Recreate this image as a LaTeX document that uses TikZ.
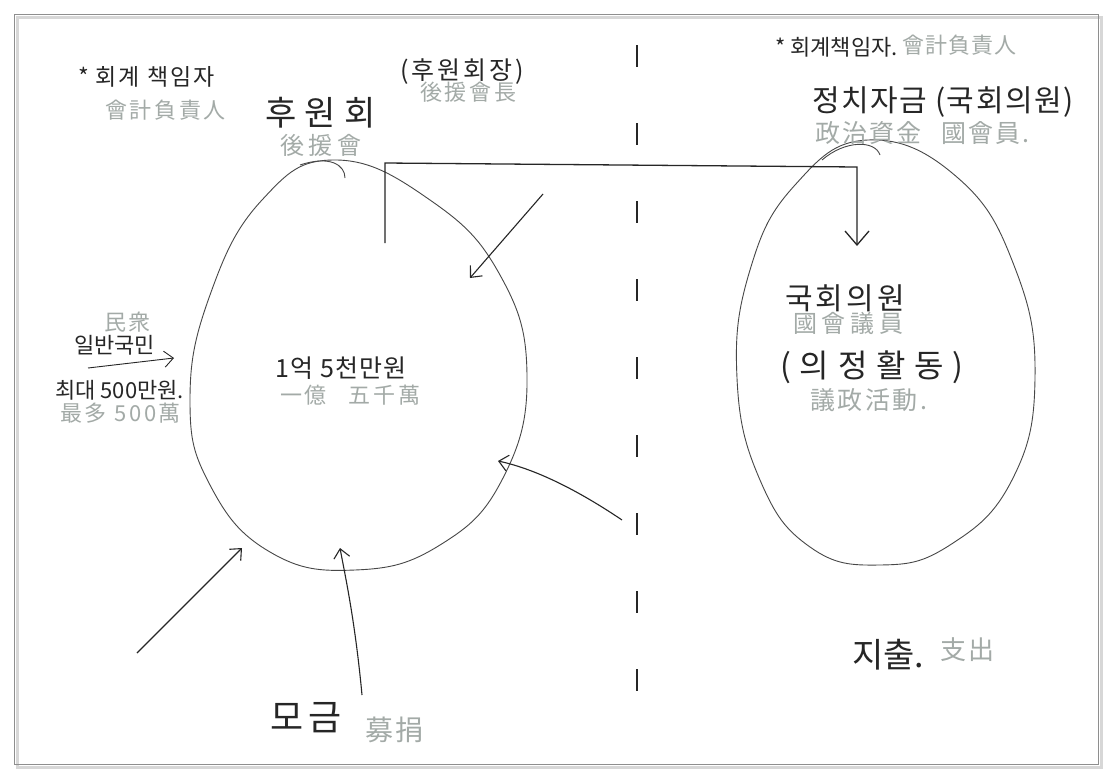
\documentclass[tikz,border=0pt]{standalone}
\usepackage{fontspec}
\setmainfont{Noto Sans CJK KR}
\usetikzlibrary{arrows.meta}
\definecolor{ink}{HTML}{262626}
\definecolor{pencil}{HTML}{A3AAA7}
\definecolor{framec}{HTML}{8E8E8E}
\newcommand{\lsp}[1]{\addfontfeature{LetterSpace=#1}}
\tikzset{
  inktext/.style={text=ink, font=\fontsize{22}{26}\selectfont, inner sep=0pt},
  biginktext/.style={text=ink, font=\fontsize{30}{34}\selectfont, inner sep=0pt},
  hanja/.style={text=pencil, font=\fontsize{22}{26}\selectfont\lsp{12}, inner sep=0pt},
  oval/.style={draw=ink!85, line width=0.9pt},
  flow/.style={draw=ink, line width=1.1pt, -{Straight Barb[length=9pt,width=16pt]}},
  bigflow/.style={draw=ink, line width=1.3pt, -{Straight Barb[length=14pt,width=24pt]}},
}
\begin{document}
\begin{tikzpicture}[x=1pt,y=-1pt]
\useasboundingbox (0,0) rectangle (1114,779);
\fill[white] (0,0) rectangle (1114,779);
\draw[framec!35, line width=3pt] (17,17) rectangle (1101,767);
\draw[framec, line width=0.8pt] (14,14) rectangle (1098,764);

% ovals
\draw[oval] plot[smooth cycle, tension=0.75] coordinates {
  (335,160) (430,200) (500,275) (527,375) (503,478) (440,545)
  (355,570) (270,552) (210,485) (190,400) (210,295) (262,200)};
\draw[oval] (300,165) .. controls (330,155) and (345,165) .. (345,178);
\draw[oval] plot[smooth cycle, tension=0.75] coordinates {
  (868,140) (958,178) (1015,268) (1035,378) (1012,480) (950,545)
  (880,565) (810,547) (760,480) (737,378) (750,270) (795,185)};
\draw[oval] (822,160) .. controls (845,140) and (875,140) .. (880,155);

% coordinates for connectors
\coordinate (hwStart) at (385,243);
\coordinate (hwCorner) at (385,163);
\coordinate (pjCorner) at (857,167);
\coordinate (pjEnd) at (857,246);
\coordinate (divTop) at (637,45);
\coordinate (divBot) at (637,735);
\coordinate (ulFrom) at (543,194);
\coordinate (ulTo) at (470,278);
\coordinate (lrFrom) at (622,520);
\coordinate (lrTo) at (498,461);
\coordinate (llFrom) at (137,653);
\coordinate (llTo) at (242,548);
\coordinate (btFrom) at (362,695);
\coordinate (btTo) at (340,548);
\coordinate (pubFrom) at (88,368);
\coordinate (pubTo) at (174,358);

\draw[bigflow] (hwStart) -- (hwCorner) -- (pjCorner) -- (pjEnd);
\draw[ink, line width=1.3pt, dash pattern=on 22pt off 56pt] (divTop) -- (divBot);
\draw[flow] (ulFrom) -- (ulTo);
\draw[flow] (lrFrom) .. controls (585,495) and (540,470) .. (lrTo);
\draw[flow] (llFrom) -- (llTo);
\draw[flow] (btFrom) .. controls (355,620) and (345,575) .. (btTo);
\draw[flow, line width=0.9pt] (pubFrom) -- (pubTo);

% texts left top
\node[inktext, font=\fontsize{23}{27}\selectfont\lsp{8}, anchor=west] (accL) at (78,77) {* 회계 책임자};
\node[hanja, anchor=west] (accLh) at (105,110) {會計負責人};
\node[biginktext, font=\fontsize{34}{38}\selectfont\lsp{25}, anchor=west] (hwk) at (265,113) {후원회};
\node[hanja, font=\fontsize{24}{28}\selectfont\lsp{20}, anchor=west] (hwh) at (280,145) {後援會};
\node[inktext, font=\fontsize{25}{29}\selectfont\lsp{12}, anchor=west] (hwBoss) at (400,72) {(후원회장)};
\node[hanja, anchor=west] (hwBossh) at (420,92) {後援會長};

% right top
\node[inktext, anchor=west] (accR) at (775,47) {* 회계책임자.};
\node[hanja, font=\fontsize{22}{26}\selectfont\lsp{5}, anchor=west] (accRh) at (902,45) {會計負責人};
\node[biginktext, font=\fontsize{30}{34}\selectfont\lsp{5}, anchor=west] (pfund) at (812,102) {정치자금 (국회의원)};
\node[hanja, font=\fontsize{25}{29}\selectfont\lsp{8}, anchor=west] (pfundh) at (815,133) {政治資金\hspace{20pt}國會員.};

% left side
\node[hanja, anchor=west] (mz) at (104,322) {民衆};
\node[inktext, anchor=west] (pub) at (74,345) {일반국민};
\node[inktext, anchor=west] (maxk) at (55,390) {최대 500만원.};
\node[hanja, anchor=west] (maxh) at (60,413) {最多 500萬};

% centre of left oval
\node[inktext, font=\fontsize{25}{29}\selectfont\lsp{5}, anchor=west] (amt) at (275,368) {1억 5천만원};
\node[hanja, anchor=west] (amth) at (280,395) {一億\hspace{22pt}五千萬};

% right oval
\node[biginktext, font=\fontsize{30}{34}\selectfont\lsp{10}, anchor=west] (mp) at (785,298) {국회의원};
\node[hanja, font=\fontsize{24}{28}\selectfont\lsp{20}, anchor=west] (mph) at (793,323) {國會議員};
\node[biginktext, font=\fontsize{32}{36}\selectfont\lsp{5}, anchor=west] (act) at (780,367) {( 의 정 활 동 )};
\node[hanja, font=\fontsize{25}{29}\selectfont\lsp{10}, anchor=west] (acth) at (810,400) {議政活動.};

% bottom
\node[biginktext, font=\fontsize{36}{40}\selectfont\lsp{15}, anchor=west] (mg) at (270,718) {모금};
\node[hanja, font=\fontsize{28}{32}\selectfont\lsp{8}, anchor=west] (mgh) at (365,730) {募捐};
\node[biginktext, font=\fontsize{34}{38}\selectfont, anchor=west] (exp) at (852,655) {지출.};
\node[hanja, font=\fontsize{26}{30}\selectfont\lsp{8}, anchor=west] (exph) at (940,650) {支出};
\end{tikzpicture}
\end{document}
